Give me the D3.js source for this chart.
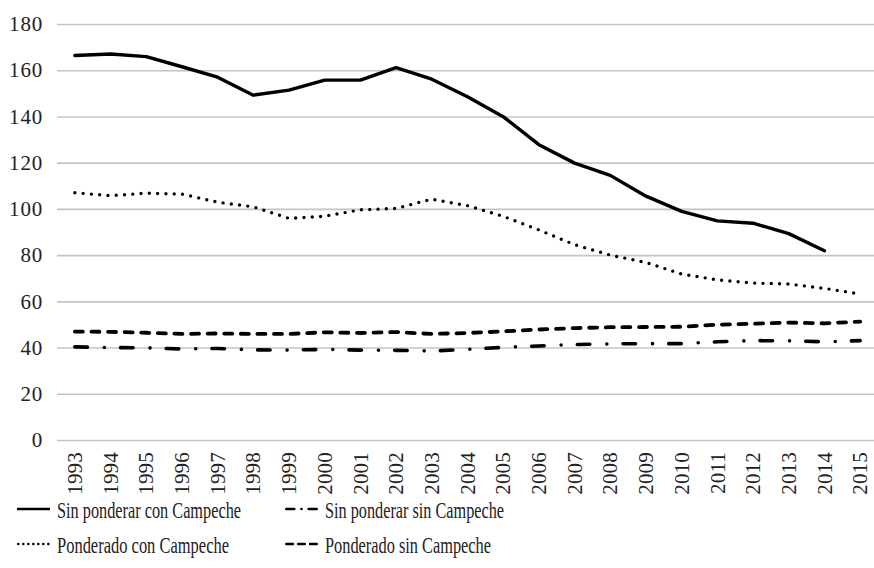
<!DOCTYPE html>
<html>
<head>
<meta charset="utf-8">
<script src="https://cdn.jsdelivr.net/npm/d3@7/dist/d3.min.js"></script>
<style>
  html, body { margin: 0; padding: 0; background: #fff; }
  svg { display: block; }
  text { font-family: "Liberation Serif", "DejaVu Serif", serif; fill: #222; }
</style>
</head>
<body>
<svg id="chart" width="874" height="568"></svg>
<script>
const years = ["1993","1994","1995","1996","1997","1998","1999","2000","2001","2002","2003","2004","2005","2006","2007","2008","2009","2010","2011","2012","2013","2014","2015"];
const sinPonderarConCampeche = [166.4,167,165.9,161.5,157,149.2,151.4,155.7,155.7,161.1,156.1,148.5,139.9,127.8,119.8,114.5,105.5,98.9,94.8,93.8,89.3,81.9,null];
const ponderadoConCampeche = [107,105.7,106.8,106.4,102.9,100.9,95.9,96.8,99.6,100.2,104.2,101.4,96.8,90.9,84.5,80.0,76.8,71.8,69.3,67.9,67.5,65.6,63.2];
const sinPonderarSinCampeche = [40.3,40.0,39.9,39.4,39.6,39.0,38.9,39.2,38.9,38.8,38.5,39.2,40.1,40.7,41.3,41.6,41.7,41.7,42.5,43.0,42.9,42.5,43.0];
const ponderadoSinCampeche = [46.9,46.8,46.4,45.9,46.1,45.9,45.9,46.6,46.3,46.7,45.9,46.3,47.0,47.8,48.4,48.8,48.9,49.0,49.9,50.3,50.8,50.5,51.2];
const yTicks = [0,20,40,60,80,100,120,140,160,180];
const seriesNames = ["Sin ponderar con Campeche","Sin ponderar sin Campeche","Ponderado con Campeche","Ponderado sin Campeche"];

(function () {
const svg = d3.select("#chart");
const mLeft = 57, mRight = 878, mTop = 24, mBottom = 440;

const x = d3.scalePoint().domain(years).range([mLeft, mRight]).padding(0.5);
const y = d3.scaleLinear().domain([0, 180]).range([mBottom, mTop]);

// grid + y axis
const yAxis = svg.append("g")
  .attr("transform", `translate(${mLeft},0)`)
  .call(d3.axisLeft(y).tickValues(yTicks).tickSize(-(mRight - mLeft)).tickPadding(14).tickFormat(d3.format("d")));
yAxis.select(".domain").remove();
yAxis.selectAll(".tick line").attr("stroke", "#c4c4c4").attr("stroke-width", 1.6);
yAxis.selectAll(".tick text")
  .attr("font-size", 21).attr("fill", "#222")
  .attr("font-family", "Liberation Serif, serif")
  .attr("x", -14).attr("dy", "0.32em").attr("letter-spacing", 0.8);

// x labels
const xAxis = svg.append("g");
xAxis.selectAll("text").data(years).enter().append("text")
  .attr("transform", d => `translate(${x(d)},452) rotate(-90)`)
  .attr("text-anchor", "end")
  .attr("dy", "0.34em")
  .attr("font-size", 21)
  .attr("letter-spacing", 0.2)
  .text(d => d);

const styles = [
  { data: sinPonderarConCampeche, dash: null, width: 3.4, cap: "round" },
  { data: sinPonderarSinCampeche, dash: "12.5 17 0 16.2", width: 3.6, cap: "round" },
  { data: ponderadoConCampeche, dash: "0 8.3", width: 3.4, cap: "round" },
  { data: ponderadoSinCampeche, dash: "8 8.6", width: 3.8, cap: "round" }
];

const line = d3.line()
  .defined(d => d.v !== null)
  .x(d => x(d.year))
  .y(d => y(d.v));

styles.forEach(s => {
  const pts = years.map((yr, i) => ({ year: yr, v: s.data[i] }));
  svg.append("path")
    .datum(pts)
    .attr("d", line)
    .attr("fill", "none")
    .attr("stroke", "#000")
    .attr("stroke-width", s.width)
    .attr("stroke-linecap", s.cap)
    .attr("stroke-linejoin", "round")
    .attr("stroke-dasharray", s.dash);
});

// legend
const legendItems = [
  { name: seriesNames[0], lx: 17, tx: 57, ty: 518, w: 184 },
  { name: seriesNames[1], lx: 285, tx: 325, ty: 518, w: 179 },
  { name: seriesNames[2], lx: 17, tx: 57, ty: 553, w: 172 },
  { name: seriesNames[3], lx: 285, tx: 325, ty: 553, w: 166 }
];
const legendDash = [null, "8 7.2 0 7.2 8", "0 5", "6.6 5.3"];
const lg = svg.append("g");
legendItems.forEach((it, i) => {
  lg.append("line")
    .attr("x1", i === 0 ? it.lx : it.lx + 1.3).attr("x2", i === 0 ? it.lx + 33 : it.lx + 31.7)
    .attr("y1", it.ty - 9).attr("y2", it.ty - 9)
    .attr("stroke", "#000")
    .attr("stroke-width", 2.6)
    .attr("stroke-linecap", i === 0 ? "butt" : "round")
    .attr("stroke-dasharray", legendDash[i]);
  lg.append("text")
    .attr("x", it.tx).attr("y", it.ty)
    .attr("font-size", 24)
    .attr("textLength", it.w)
    .attr("lengthAdjust", "spacingAndGlyphs")
    .text(it.name);
});
})();
</script>
</body>
</html>
